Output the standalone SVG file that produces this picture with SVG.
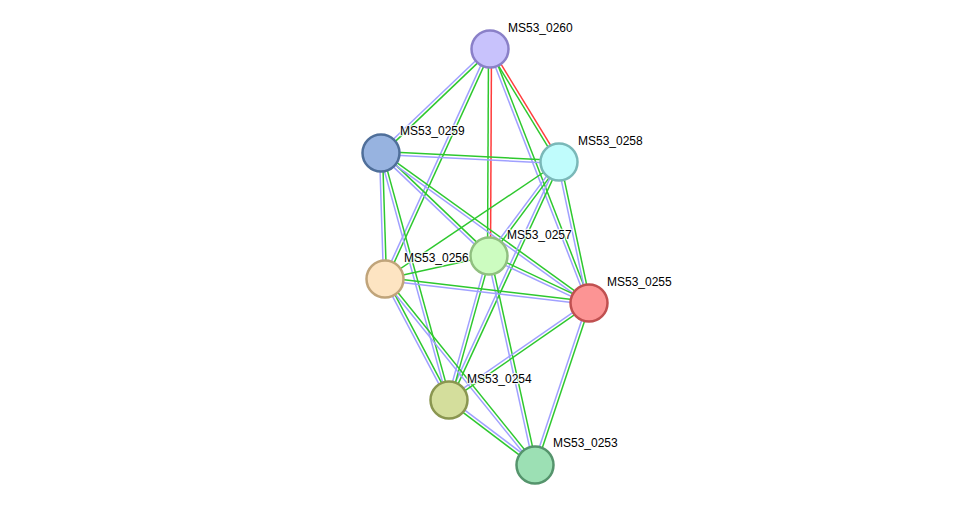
<svg xmlns="http://www.w3.org/2000/svg" width="975" height="511" viewBox="0 0 975 511">
<style>
.g{stroke:#2ec82e;stroke-width:1.5;fill:none}
.b{stroke:#a0a0ff;stroke-width:1.5;fill:none}
.r{stroke:#ff3c3c;stroke-width:1.5;fill:none}
.n{stroke-width:2.5}
.t{font-family:"Liberation Sans",Arial,sans-serif;font-size:12px;fill:#000;stroke:#fff;stroke-width:2.5;stroke-opacity:0.8;paint-order:stroke;stroke-linejoin:round}
</style>
<rect width="975" height="511" fill="#fff"/>
<g id="edges">
<line class="g" x1="491.04" y1="50.09" x2="382.04" y2="154.09"/><line class="b" x1="488.97" y1="47.92" x2="379.97" y2="151.92"/>
<line class="g" x1="491.36" y1="49.62" x2="386.36" y2="279.62"/><line class="b" x1="488.64" y1="48.38" x2="383.64" y2="278.38"/>
<line class="r" x1="491.5" y1="49" x2="490.5" y2="256"/><line class="g" x1="488.5" y1="49" x2="487.5" y2="256"/>
<line class="r" x1="491.28" y1="48.22" x2="560.28" y2="161.22"/><line class="g" x1="488.72" y1="49.78" x2="557.72" y2="162.78"/>
<line class="g" x1="491.40" y1="48.46" x2="590.40" y2="302.46"/><line class="b" x1="488.60" y1="49.54" x2="587.60" y2="303.54"/>
<line class="g" x1="381.08" y1="151.50" x2="559.08" y2="160.50"/><line class="b" x1="380.92" y1="154.50" x2="558.92" y2="163.50"/>
<line class="g" x1="382.04" y1="151.91" x2="490.04" y2="254.91"/><line class="b" x1="379.96" y1="154.09" x2="487.96" y2="257.09"/>
<line class="g" x1="381.88" y1="151.78" x2="589.88" y2="301.78"/><line class="b" x1="380.12" y1="154.22" x2="588.12" y2="304.22"/>
<line class="g" x1="382.5" y1="152.95" x2="386.5" y2="278.95"/><line class="b" x1="379.5" y1="153.05" x2="383.5" y2="279.05"/>
<line class="g" x1="382.45" y1="152.60" x2="450.45" y2="399.60"/><line class="b" x1="379.55" y1="153.40" x2="447.55" y2="400.40"/>
<line class="g" x1="559" y1="162" x2="385" y2="279"/>
<line class="g" x1="560.20" y1="162.90" x2="490.20" y2="256.90"/><line class="b" x1="557.80" y1="161.10" x2="487.80" y2="255.10"/>
<line class="g" x1="560.47" y1="161.69" x2="590.47" y2="302.69"/><line class="b" x1="557.53" y1="162.31" x2="587.53" y2="303.31"/>
<line class="g" x1="560.36" y1="162.63" x2="450.36" y2="400.63"/><line class="b" x1="557.64" y1="161.37" x2="447.64" y2="399.37"/>
<line class="g" x1="489" y1="256" x2="385" y2="279"/>
<line class="g" x1="489.64" y1="254.64" x2="589.64" y2="301.64"/><line class="b" x1="488.36" y1="257.36" x2="588.36" y2="304.36"/>
<line class="g" x1="490.45" y1="256.40" x2="450.45" y2="400.40"/><line class="b" x1="487.55" y1="255.60" x2="447.55" y2="399.60"/>
<line class="g" x1="490.47" y1="255.68" x2="536.47" y2="464.68"/><line class="b" x1="487.53" y1="256.32" x2="533.53" y2="465.32"/>
<line class="g" x1="385.18" y1="277.51" x2="589.18" y2="301.51"/><line class="b" x1="384.82" y1="280.49" x2="588.82" y2="304.49"/>
<line class="g" x1="386.33" y1="278.30" x2="450.33" y2="399.30"/><line class="b" x1="383.67" y1="279.70" x2="447.67" y2="400.70"/>
<line class="g" x1="386.17" y1="278.06" x2="536.17" y2="464.06"/><line class="b" x1="383.83" y1="279.94" x2="533.83" y2="465.94"/>
<line class="g" x1="589.85" y1="304.23" x2="449.85" y2="401.23"/><line class="b" x1="588.15" y1="301.77" x2="448.15" y2="398.77"/>
<line class="g" x1="590.42" y1="303.47" x2="536.42" y2="465.47"/><line class="b" x1="587.58" y1="302.53" x2="533.58" y2="464.53"/>
<line class="g" x1="534.10" y1="466.20" x2="448.10" y2="401.20"/><line class="b" x1="535.90" y1="463.80" x2="449.90" y2="398.80"/>
</g>
<g id="MS53_0260"><circle class="n" cx="490" cy="49" r="18.5" fill="#c8c2fc" stroke="#8a80c8"/><text class="t" x="508" y="32">MS53_0260</text></g>
<g id="MS53_0259"><circle class="n" cx="381" cy="153" r="18.5" fill="#97b3e0" stroke="#4f6f9a"/><text class="t" x="400" y="135">MS53_0259</text></g>
<g id="MS53_0258"><circle class="n" cx="559" cy="162" r="18.5" fill="#c0fcfc" stroke="#7ab8b8"/><text class="t" x="578" y="145">MS53_0258</text></g>
<g id="MS53_0257"><circle class="n" cx="489" cy="256" r="18.5" fill="#ccfcc0" stroke="#90c080"/><text class="t" x="507" y="239">MS53_0257</text></g>
<g id="MS53_0256"><circle class="n" cx="385" cy="279" r="18.5" fill="#fde4c2" stroke="#c0a47a"/><text class="t" x="404" y="262">MS53_0256</text></g>
<g id="MS53_0255"><circle class="n" cx="589" cy="303" r="18.5" fill="#fc9494" stroke="#c05050"/><text class="t" x="607" y="286">MS53_0255</text></g>
<g id="MS53_0254"><circle class="n" cx="449" cy="400" r="18.5" fill="#d4de9c" stroke="#8a9650"/><text class="t" x="467" y="383">MS53_0254</text></g>
<g id="MS53_0253"><circle class="n" cx="535" cy="465" r="18.5" fill="#9ce0b4" stroke="#55946c"/><text class="t" x="553" y="447">MS53_0253</text></g>
</svg>
